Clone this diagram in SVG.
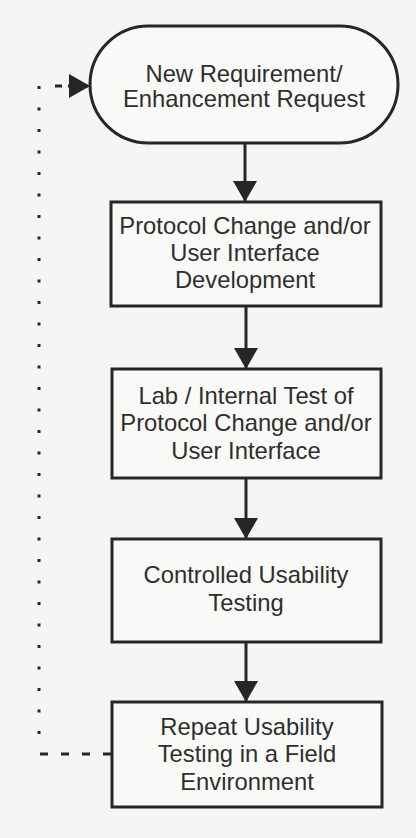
<svg xmlns="http://www.w3.org/2000/svg" width="416" height="838" viewBox="0 0 416 838">
<style>
.node{fill:#f9f9f7;stroke:#262626;stroke-width:3}
.t{font-family:"Liberation Sans",Arial,sans-serif;font-size:23.8px;fill:#2e2e2e;text-anchor:middle}
.c{stroke:#262626;stroke-width:3;fill:none}
</style>
<defs>
<marker id="ah" markerUnits="userSpaceOnUse" markerWidth="22" markerHeight="24" refX="21" refY="12" orient="auto">
<path d="M0,0 L21,12 L0,24 z" fill="#262626"/>
</marker>
</defs>
<rect width="416" height="838" fill="#f5f5f3"/>
<g id="connectors">
<line class="c" x1="245" y1="143" x2="245" y2="202" marker-end="url(#ah)"/>
<line class="c" x1="246" y1="306" x2="246" y2="369" marker-end="url(#ah)"/>
<line class="c" x1="246" y1="478" x2="246" y2="539" marker-end="url(#ah)"/>
<line class="c" x1="246" y1="642" x2="246" y2="702" marker-end="url(#ah)"/>
<line class="c" x1="111" y1="754" x2="40" y2="754" stroke-dasharray="8 13"/>
<line class="c" x1="39" y1="734" x2="39" y2="84" stroke-width="4" stroke-dasharray="3 18.5"/>
<line class="c" x1="55" y1="86" x2="90" y2="86" stroke-dasharray="7 6" marker-end="url(#ah)"/>
</g>
<g id="n0">
<rect class="node" x="90" y="26" width="308" height="117" rx="58.5" ry="58.5"/>
<text class="t" x="244" y="82">New Requirement/</text>
<text class="t" x="244" y="107">Enhancement Request</text>
</g>
<g id="n1">
<rect class="node" x="111" y="202" width="270" height="104"/>
<text class="t" x="245" y="234">Protocol Change and/or</text>
<text class="t" x="245" y="261">User Interface</text>
<text class="t" x="245" y="288">Development</text>
</g>
<g id="n2">
<rect class="node" x="112" y="369" width="269" height="109"/>
<text class="t" x="246" y="404">Lab / Internal Test of</text>
<text class="t" x="246" y="431">Protocol Change and/or</text>
<text class="t" x="246" y="459">User Interface</text>
</g>
<g id="n3">
<rect class="node" x="112" y="539" width="269" height="103"/>
<text class="t" x="246" y="583">Controlled Usability</text>
<text class="t" x="246" y="611">Testing</text>
</g>
<g id="n4">
<rect class="node" x="112" y="702" width="270" height="105"/>
<text class="t" x="247" y="735">Repeat Usability</text>
<text class="t" x="247" y="762">Testing in a Field</text>
<text class="t" x="247" y="790">Environment</text>
</g>
</svg>
